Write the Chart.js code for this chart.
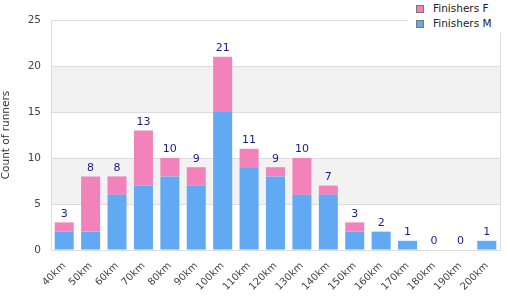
<!DOCTYPE html>
<html><head><meta charset="utf-8">
<script src="https://cdn.jsdelivr.net/npm/chart.js@4/dist/chart.umd.min.js"></script>
<style>
html,body{margin:0;padding:0;background:#fff;}
#wrap{position:relative;width:510px;height:300px;}
#legend{position:absolute;left:408px;top:0;width:102px;height:33px;background:#fff;font-family:"DejaVu Sans";font-size:10.5px;color:#222;}
.li{position:absolute;left:8px;height:14px;line-height:14px;white-space:nowrap;}
.li span.box{position:absolute;left:0;top:4px;width:6px;height:6px;border:1px solid #777;}
.li span.t{position:absolute;left:17px;top:0;}
</style></head>
<body><div id="wrap"><canvas id="c" width="510" height="300"></canvas><div id="legend"></div></div>
<script>
const categories = ["40km","50km","60km","70km","80km","90km","100km","110km","120km","130km","140km","150km","160km","170km","180km","190km","200km"];
const finishersM = [2,2,6,7,8,7,15,9,8,6,6,2,2,1,0,0,1];
const finishersF = [1,6,2,6,2,2,6,2,1,4,1,1,0,0,0,0,0];
const yTicks = [0,5,10,15,20,25];
const pink = "#f283ba", blue = "#62a9f3";

const bands = {
  id:"bands",
  beforeDraw(chart){
    const {ctx, chartArea:a, scales:{y}} = chart;
    ctx.save(); ctx.fillStyle="#f2f2f2";
    [[5,10],[15,20]].forEach(([lo,hi])=>{
      const t=y.getPixelForValue(hi), b=y.getPixelForValue(lo);
      ctx.fillRect(a.left,t,a.right-a.left,b-t);
    });
    ctx.restore();
  }
};
const totals = {
  id:"totals",
  afterDatasetsDraw(chart){
    const {ctx, scales:{x,y}} = chart;
    ctx.save(); ctx.fillStyle="#1a1a8a"; ctx.font="11px 'DejaVu Sans'";
    ctx.textAlign="center"; ctx.textBaseline="bottom";
    categories.forEach((c,i)=>{
      const tot=finishersM[i]+finishersF[i];
      ctx.fillText(String(tot), x.getPixelForValue(i), y.getPixelForValue(tot)-3);
    });
    ctx.restore();
  }
};
const rightBorder = {
  id:"rb",
  afterDraw(chart){
    const {ctx, chartArea:a}=chart;
    ctx.save(); ctx.strokeStyle="#dddddd"; ctx.lineWidth=1;
    ctx.beginPath(); ctx.moveTo(a.right+0.5,a.top); ctx.lineTo(a.right+0.5,a.bottom); ctx.stroke();
    ctx.restore();
  }
};

Chart.defaults.font.family="'DejaVu Sans'";
const chart = new Chart(document.getElementById("c"),{
  type:"bar",
  data:{labels:categories,datasets:[
    {label:"Finishers M",data:finishersM,backgroundColor:blue,barPercentage:0.72,categoryPercentage:1},
    {label:"Finishers F",data:finishersF,backgroundColor:pink,barPercentage:0.72,categoryPercentage:1}
  ]},
  options:{
    responsive:false,animation:false,
    layout:{padding:{top:20,right:10,left:0,bottom:0}},
    plugins:{legend:{display:false},tooltip:{enabled:false}},
    scales:{
      x:{stacked:true,grid:{display:false},border:{color:"#dddddd"},
         afterFit(ax){ax.height=50;},
         ticks:{color:"#444",font:{size:10},maxRotation:45,minRotation:45,autoSkip:false,padding:2}},
      y:{stacked:true,min:0,max:25,
         afterBuildTicks(ax){ax.ticks=yTicks.map(v=>({value:v}));},
         afterFit(ax){ax.width=51;},
         grid:{color:"#dddddd",drawTicks:false},border:{color:"#dddddd"},
         ticks:{color:"#444",font:{size:10.5},padding:10},
         title:{display:true,text:"Count of runners",color:"#333",font:{size:10.5},padding:{top:0,bottom:4}}}
    }
  },
  plugins:[bands,totals,rightBorder]
});

const lg=document.getElementById("legend");
[chart.data.datasets[1],chart.data.datasets[0]].forEach((ds,i)=>{
  const d=document.createElement("div"); d.className="li"; d.style.top=(1+i*15)+"px";
  d.innerHTML='<span class="box" style="background:'+ds.backgroundColor+'"></span><span class="t"></span>';
  d.querySelector(".t").textContent=ds.label; lg.appendChild(d);
});
</script></body></html>
